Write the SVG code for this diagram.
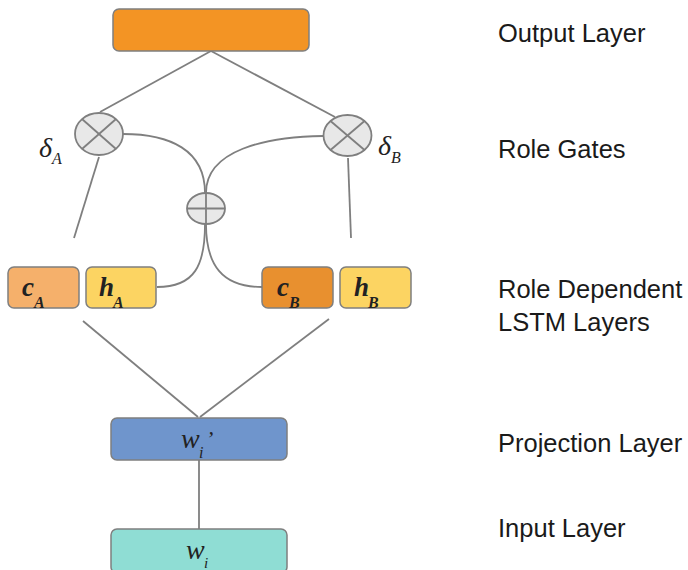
<svg xmlns="http://www.w3.org/2000/svg" width="688" height="570" viewBox="0 0 688 570">
<style>
.box{stroke:#7f7f7f;stroke-width:1.5}
.gate{fill:#e8e8e8;stroke:#7f7f7f;stroke-width:1.8}
.sym{stroke:#7f7f7f;stroke-width:1.8;fill:none}
.conn{stroke:#7f7f7f;stroke-width:1.8;fill:none}
.lbl{font-family:"Liberation Sans",Arial,sans-serif;font-size:25.5px;fill:#1a1a1a}
.math{font-family:"Liberation Serif","Times New Roman",serif;font-style:italic;fill:#222}
</style>
<rect width="688" height="570" fill="#ffffff"/>
<g id="connectors">
<line class="conn" x1="211" y1="51" x2="100" y2="112"/>
<line class="conn" x1="211" y1="51" x2="335" y2="117"/>
<path class="conn" d="M123,134 C170,134 205,150 205,193"/>
<path class="conn" d="M323,136 C265,137 206,150 206,193"/>
<path class="conn" d="M205,224 C205,265 195,287 157,287"/>
<path class="conn" d="M206,224 C206,265 222,287 262,287"/>
<line class="conn" x1="99" y1="157" x2="74" y2="238"/>
<line class="conn" x1="348" y1="158" x2="351" y2="238"/>
<line class="conn" x1="83" y1="321" x2="198" y2="417"/>
<line class="conn" x1="329" y1="319" x2="200" y2="417"/>
<line class="conn" x1="199" y1="460" x2="199" y2="529"/>
</g>
<g id="output-layer">
<rect class="box" x="113" y="9" width="196" height="42" rx="6" fill="#f39424"/>
</g>
<g id="gate-a">
<ellipse class="gate" cx="99" cy="134" rx="24" ry="21"/>
<line class="sym" x1="82" y1="119" x2="116" y2="149"/>
<line class="sym" x1="116" y1="119" x2="82" y2="149"/>
</g>
<g id="gate-b">
<ellipse class="gate" cx="347.5" cy="135.5" rx="24" ry="20.5"/>
<line class="sym" x1="330.5" y1="121" x2="364.5" y2="150"/>
<line class="sym" x1="364.5" y1="121" x2="330.5" y2="150"/>
</g>
<g id="sum">
<ellipse class="gate" cx="206" cy="208.5" rx="19" ry="15.5"/>
<line class="sym" x1="187" y1="208.5" x2="225" y2="208.5"/>
<line class="sym" x1="206" y1="193" x2="206" y2="224"/>
</g>
<g id="label-delta-a">
<text class="math" x="39" y="157" font-size="28">δ</text>
<text class="math" x="52" y="164" font-size="16">A</text>
</g>
<g id="label-delta-b">
<text class="math" x="378" y="155" font-size="28">δ</text>
<text class="math" x="391" y="163" font-size="16">B</text>
</g>
<g id="c-a">
<rect class="box" x="8" y="267" width="71" height="41" rx="6" fill="#f5b06b"/>
<text class="math" x="22" y="296" font-size="27" font-weight="bold">c</text>
<text class="math" x="34" y="308" font-size="16" font-weight="bold">A</text>
</g>
<g id="h-a">
<rect class="box" x="86" y="267" width="70" height="41" rx="6" fill="#fcd462"/>
<text class="math" x="99" y="296" font-size="27" font-weight="bold">h</text>
<text class="math" x="113" y="308" font-size="16" font-weight="bold">A</text>
</g>
<g id="c-b">
<rect class="box" x="262" y="267" width="71" height="41" rx="6" fill="#e8902f"/>
<text class="math" x="277" y="296" font-size="27" font-weight="bold">c</text>
<text class="math" x="289" y="308" font-size="16" font-weight="bold">B</text>
</g>
<g id="h-b">
<rect class="box" x="340" y="267" width="71" height="41" rx="6" fill="#fcd462"/>
<text class="math" x="354" y="296" font-size="27" font-weight="bold">h</text>
<text class="math" x="368" y="308" font-size="16" font-weight="bold">B</text>
</g>
<g id="projection-layer">
<rect class="box" x="111" y="418" width="176" height="42" rx="6" fill="#6f95cc"/>
<text class="math" x="181" y="448" font-size="28" fill="#1f2d55">w</text>
<text class="math" x="199" y="458" font-size="16" fill="#1f2d55">i</text>
<text class="math" x="206" y="446" font-size="22" fill="#1f2d55">’</text>
</g>
<g id="input-layer">
<rect class="box" x="111" y="529" width="176" height="44" rx="6" fill="#8fddd4"/>
<text class="math" x="186" y="559" font-size="28" fill="#136a6a">w</text>
<text class="math" x="204" y="568" font-size="15" fill="#136a6a">i</text>
</g>
<g id="labels">
<text class="lbl" x="498" y="42">Output Layer</text>
<text class="lbl" x="498" y="158">Role Gates</text>
<text class="lbl" x="498" y="298">Role Dependent</text>
<text class="lbl" x="498" y="331">LSTM Layers</text>
<text class="lbl" x="498" y="452">Projection Layer</text>
<text class="lbl" x="498" y="537">Input Layer</text>
</g>
</svg>
